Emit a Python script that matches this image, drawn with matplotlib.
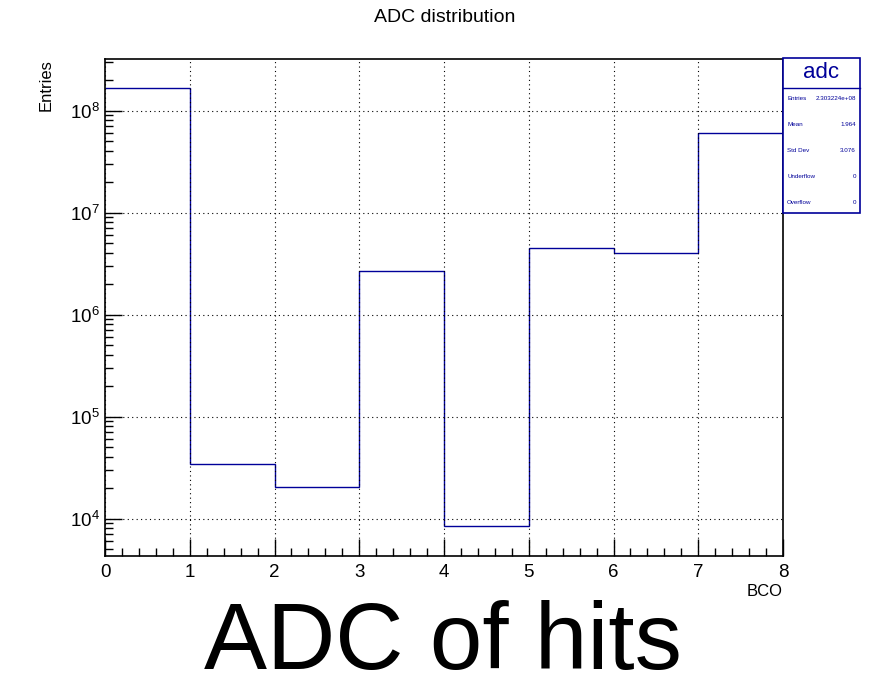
import numpy as np
import matplotlib
matplotlib.use("Agg")
import matplotlib.pyplot as plt
from matplotlib.patches import Rectangle
from matplotlib.ticker import LogLocator, MultipleLocator, NullFormatter

plt.rcParams['font.family'] = ['Liberation Sans', 'DejaVu Sans']

# histogram data
bin_edges = [0, 1, 2, 3, 4, 5, 6, 7, 8]
counts = [1.68e8, 3.46e4, 2.06e4, 2.7e6, 8.5e3, 4.54e6, 4.05e6, 5.96e7]

stat_names = ["Entries", "Mean", "Std Dev", "Underflow", "Overflow"]
stat_values = ["2.303224e+08", "1.964", "3.076", "0", "0"]

W, H = 871, 693
blue = "#000099"

fig = plt.figure(figsize=(W / 100, H / 100), dpi=100)
# axes frame in pixels: left 105, right 783, top 59, bottom 556
ax = fig.add_axes([105 / W, 1 - 556 / H, (783 - 105) / W, (556 - 59) / H])

ax.stairs(counts, bin_edges, color=blue, linewidth=1.0, baseline=None)

ax.set_yscale("log")
ax.set_xlim(0, 8)
ax.set_ylim(4.3e3, 3.2e8)

ax.xaxis.set_major_locator(MultipleLocator(1))
ax.xaxis.set_minor_locator(MultipleLocator(0.2))
ax.yaxis.set_major_locator(LogLocator(base=10, numticks=20))
ax.yaxis.set_minor_locator(LogLocator(base=10, subs=np.arange(2, 10), numticks=20))
ax.yaxis.set_minor_formatter(NullFormatter())

ax.tick_params(which="both", direction="in", labelsize=13.5, top=False, right=False)
ax.tick_params(which="major", length=12, width=1)
ax.tick_params(which="minor", length=6, width=1)
ax.tick_params(axis="x", which="major", pad=6)

ax.grid(True, which="major", linestyle=(0, (1, 3)), color="black", linewidth=0.8)
for sp in ax.spines.values():
    sp.set_linewidth(1.2)

ax.set_xlabel("BCO", fontsize=12, loc="right", labelpad=2)
ax.set_ylabel("Entries", fontsize=12, loc="top", labelpad=12)

fig.text(445 / W, 1 - 18 / H, "ADC distribution", fontsize=14, ha="center", va="center")
fig.text(443 / W, 1 - 645 / H, "ADC of hits", fontsize=68, ha="center", va="center")

# stats box
bx0, bx1, by0, by1 = 783, 860, 58, 213
fig.patches.append(Rectangle((bx0 / W, 1 - by1 / H), (bx1 - bx0) / W, (by1 - by0) / H,
                             transform=fig.transFigure, facecolor="white",
                             edgecolor=blue, linewidth=1.2, zorder=5))
fig.lines.append(plt.Line2D([bx0 / W, bx1 / W], [1 - 88 / H, 1 - 88 / H],
                            transform=fig.transFigure, color=blue, linewidth=1.0, zorder=6))
fig.text((bx0 + bx1) / 2 / W, 1 - 73 / H, "adc", fontsize=16, color=blue,
         ha="center", va="center", zorder=7)
row_y = [98, 125, 151, 176, 202]
for name, val, yy in zip(stat_names, stat_values, row_y):
    fig.text((bx0 + 4) / W, 1 - yy / H, name, fontsize=4.5, color=blue,
             ha="left", va="center", zorder=7)
    fig.text((bx1 - 4) / W, 1 - yy / H, val, fontsize=4.5, color=blue,
             ha="right", va="center", zorder=7)

fig.savefig("out.png", dpi=100, facecolor="white")
